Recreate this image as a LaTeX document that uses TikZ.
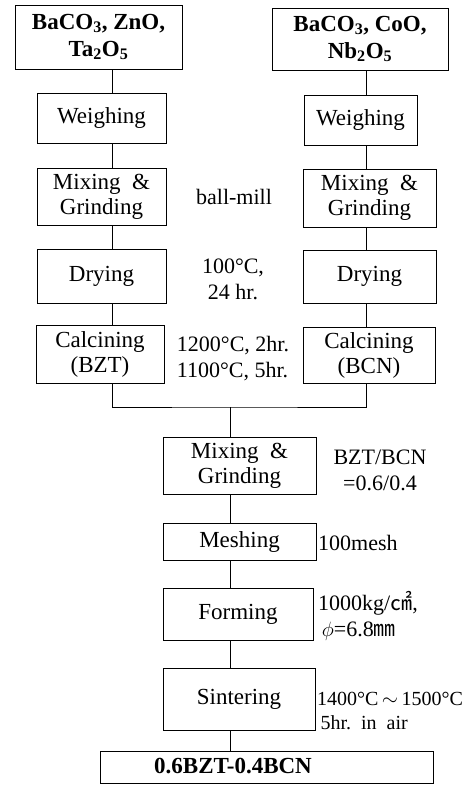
\documentclass[tikz,border=0pt]{standalone}
\usepackage{fontspec}
\setmainfont{Liberation Serif}
\newfontfamily\cjk{Noto Sans CJK KR}
\usetikzlibrary{positioning}

\begin{document}
\begin{tikzpicture}[x=1pt, y=-1pt, font=\fontsize{23}{25}\selectfont]
    \tikzset{
        stepbox/.style={rectangle, draw, line width=0.8pt, inner sep=0pt,
            align=center},
        rawbox/.style={stepbox, font=\fontsize{23}{27}\selectfont\bfseries},
        note/.style={inner sep=0pt, font=\fontsize{22}{26}\selectfont},
        link/.style={line width=0.8pt}
    }
    \useasboundingbox (0,0) rectangle (470,785);
    % column lines
    \coordinate (lcol) at (112,0);
    \coordinate (rcol) at (366,0);
    \coordinate (mcol) at (230,0);
    \coordinate (join) at (230,407);
    % left: BZT
    \node[rawbox, minimum width=167, minimum height=64] (topL) at (98.5,37)
        {BaCO\textsubscript{3}, ZnO,\\Ta\textsubscript{2}O\textsubscript{5}};
    \node[stepbox, minimum width=129, minimum height=50] (weighL) at (101.5,118) {Weighing};
    \node[stepbox, minimum width=129, minimum height=57] (mixL) at (101.5,196.5) {Mixing~~\&\\Grinding};
    \node[stepbox, minimum width=129, minimum height=54] (dryL) at (101.5,276) {Drying};
    \node[stepbox, minimum width=128, minimum height=58] (calL) at (100,354) {Calcining\\(BZT)};
    % right: BCN
    \node[rawbox, minimum width=176, minimum height=62] (topR) at (360,39)
        {BaCO\textsubscript{3}, CoO,\\Nb\textsubscript{2}O\textsubscript{5}};
    \node[stepbox, minimum width=113, minimum height=50] (weighR) at (360.5,120) {Weighing};
    \node[stepbox, minimum width=133, minimum height=58] (mixR) at (369.5,198) {Mixing~~\&\\Grinding};
    \node[stepbox, minimum width=133, minimum height=53] (dryR) at (369.5,276.5) {Drying};
    \node[stepbox, minimum width=132, minimum height=56] (calR) at (369,355) {Calcining\\(BCN)};
    % conditions between the columns
    \node[note] (mill) at (234,197) {ball-mill};
    \node[note, align=center] (drycond) at (233,279) {100°C,\\24 hr.};
    \node[note, align=left] (calcond) at (233,359) {1200°C, 2hr.\\1100°C, 5hr.};
    % common line
    \node[stepbox, minimum width=153, minimum height=57] (mix) at (239.5,465.5) {Mixing~~\&\\Grinding};
    \node[stepbox, minimum width=153, minimum height=37] (mesh) at (239.5,541.5) {Meshing};
    \node[stepbox, minimum width=150, minimum height=52] (form) at (238,614) {Forming};
    \node[stepbox, minimum width=152, minimum height=62] (sinter) at (239,699) {Sintering};
    \node[stepbox, minimum width=333, minimum height=32] (final) at (266.5,767) {};
    \node[inner sep=0pt, font=\fontsize{23}{25}\selectfont\bfseries] (finaltext) at (233,766) {0.6BZT-0.4BCN};
    \node[note, align=center] (ratio) at (380,470) {BZT/BCN\\=0.6/0.4};
    \node[note, anchor=west] (meshcond) at (318,543) {100mesh};
    \node[note, anchor=west, align=left] (formcond) at (318,616)
        {1000kg/{\cjk ㎠},\\\,$\phi$=6.8{\cjk ㎜}};
    \node[note, anchor=west, align=left, font=\fontsize{20}{24}\selectfont] (sintcond) at (317,711)
        {1400°C$\,\sim\,$1500°C\\\,5hr.~~in~~air};
    % connectors
    \draw[link] (topL.south -| lcol) -- (weighL.north -| lcol);
    \draw[link] (weighL.south -| lcol) -- (mixL.north -| lcol);
    \draw[link] (mixL.south -| lcol) -- (dryL.north -| lcol);
    \draw[link] (dryL.south -| lcol) -- (calL.north -| lcol);
    \draw[link] (topR.south -| rcol) -- (weighR.north -| rcol);
    \draw[link] (weighR.south -| rcol) -- (mixR.north -| rcol);
    \draw[link] (mixR.south -| rcol) -- (dryR.north -| rcol);
    \draw[link] (dryR.south -| rcol) -- (calR.north -| rcol);
    \draw[link] (calL.south -| lcol) |- (join) -| (calR.south -| rcol);
    \draw[link] (join) -- (mix.north -| mcol);
    \draw[link] (mix.south -| mcol) -- (mesh.north -| mcol);
    \draw[link] (mesh.south -| mcol) -- (form.north -| mcol);
    \draw[link] (form.south -| mcol) -- (sinter.north -| mcol);
    \draw[link] (sinter.south -| mcol) -- (final.north -| mcol);
\end{tikzpicture}
\end{document}
